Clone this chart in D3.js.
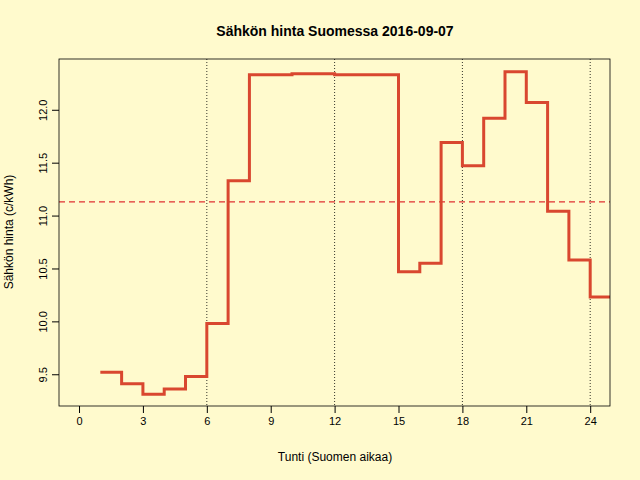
<!DOCTYPE html>
<html>
<head>
<script src="https://cdn.jsdelivr.net/npm/d3@7"></script>
<style>body{margin:0;background:#fffacd;} text{font-family:"Liberation Sans",Arial,sans-serif;}</style>
</head>
<body>
<svg id="chart" width="640" height="480"></svg>
<script>
var hours = [1,2,3,4,5,6,7,8,9,10,11,12,13,14,15,16,17,18,19,20,21,22,23,24,25];
var prices = [9.52,9.41,9.31,9.36,9.48,9.98,11.33,12.33,12.33,12.34,12.34,12.33,12.33,12.33,10.47,10.55,11.69,11.47,11.92,12.36,12.07,11.04,10.58,10.23,10.23];
var meanPrice = 11.13;
var xTicks = [0,3,6,9,12,15,18,21,24];
var yTicks = [9.5,10.0,10.5,11.0,11.5,12.0];
var vLines = [6,12,18,24];

var svg = d3.select("#chart");
svg.append("rect").attr("width",640).attr("height",480).attr("fill","#fffacd");
var L=59,R=610,T=59,B=406;
var x = d3.scaleLinear().domain([-0.94,24.93]).range([L,R]);
var y = d3.scaleLinear().domain([9.2,12.48]).range([B,T]);

svg.append("defs").append("clipPath").attr("id","clip")
  .append("rect").attr("x",L).attr("y",T).attr("width",R-L).attr("height",B-T);

var g = svg.append("g").attr("clip-path","url(#clip)");
g.selectAll(".vl").data(vLines).enter().append("line")
  .attr("x1",d=>x(d)).attr("x2",d=>x(d)).attr("y1",T).attr("y2",B)
  .attr("stroke","#000").attr("stroke-width",0.8).attr("stroke-dasharray","1,2");
g.append("line").attr("x1",L).attr("x2",R).attr("y1",y(meanPrice)).attr("y2",y(meanPrice))
  .attr("stroke","#e03030").attr("stroke-width",1.2).attr("stroke-dasharray","6,4");
var line = d3.line().x((d,i)=>x(hours[i])).y(d=>y(d)).curve(d3.curveStepAfter);
g.append("path").datum(prices).attr("d",line).attr("fill","none")
  .attr("stroke","#d9472f").attr("stroke-width",3);

svg.append("rect").attr("x",L).attr("y",T).attr("width",R-L).attr("height",B-T)
  .attr("fill","none").attr("stroke","#000").attr("stroke-width",0.8);

var xa = svg.append("g").attr("transform","translate(0,"+B+")")
  .call(d3.axisBottom(x).tickValues(xTicks).tickSize(7).tickPadding(4));
var ya = svg.append("g").attr("transform","translate("+L+",0)")
  .call(d3.axisLeft(y).tickValues(yTicks).tickFormat(d3.format(".1f")).tickSize(7).tickPadding(4));
[xa,ya].forEach(function(a){
  a.select(".domain").remove();
  a.selectAll("text").attr("font-size",11).attr("fill","#000");
});
ya.selectAll("text").attr("x",0).attr("dy",0)
  .attr("text-anchor","middle")
  .attr("transform","translate(-12,0) rotate(-90)");

svg.append("text").attr("x",335).attr("y",36).attr("text-anchor","middle")
  .attr("font-size",14).attr("font-weight","bold").text("Sähkön hinta Suomessa 2016-09-07");
svg.append("text").attr("x",335).attr("y",461).attr("text-anchor","middle")
  .attr("font-size",12).text("Tunti (Suomen aikaa)");
svg.append("text").attr("transform","translate(13,232) rotate(-90)").attr("text-anchor","middle")
  .attr("font-size",12).text("Sähkön hinta (c/kWh)");
</script>
</body>
</html>
